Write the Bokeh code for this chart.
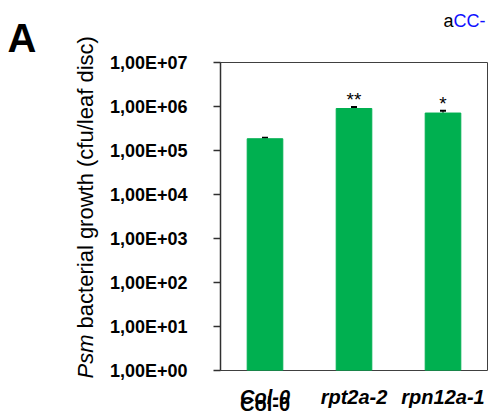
import math
from bokeh.plotting import figure
from bokeh.core.properties import value
from bokeh.models import (ColumnDataSource, Range1d, FactorRange, FixedTicker,
                          Label, LabelSet, Whisker, TeeHead)
from bokeh.embed import file_html
from bokeh.resources import INLINE

# ---- data ----
categories = ["Col-0", "rpt2a-2", "rpn12a-1"]
cfu = [1.85e5, 9.0e5, 7.1e5]
sem = [1.0e4, 8.0e4, 9.0e4]
signif = ["", "**", "*"]
italic_cats = ["rpt2a-2", "rpn12a-1"]
ytick_values = [1, 10, 100, 1000, 10000, 100000, 1000000, 10000000]
ytick_labels = ["1,00E+00", "1,00E+01", "1,00E+02", "1,00E+03",
                "1,00E+04", "1,00E+05", "1,00E+06", "1,00E+07"]
ylabel_italic = "Psm"
ylabel_rest = "bacterial growth (cfu/leaf disc)"
panel_letter = "A"

FONT = "Liberation Sans"

src = ColumnDataSource(dict(
    cat=categories,
    top=cfu,
    upper=[v + e for v, e in zip(cfu, sem)],
    sig=signif,
))

p = figure(width=490, height=412, x_range=FactorRange(*categories),
           y_range=Range1d(ytick_values[0], ytick_values[-1]),
           y_axis_type="log", output_backend="svg", toolbar_location=None,
           min_border_left=220, min_border_right=3, min_border_top=61,
           min_border_bottom=42)

p.vbar(x="cat", top="top", bottom=ytick_values[0], width=0.4, source=src,
       fill_color="#00B050", line_color="#00B050")

p.add_layout(Whisker(source=src, base="cat", lower="top", upper="upper",
                     line_color="black", line_width=1,
                     upper_head=TeeHead(size=6, line_width=2, line_color="black"),
                     lower_head=None))

p.add_layout(LabelSet(x="cat", y="upper", text="sig", source=src,
                      text_align="center", text_baseline="alphabetic",
                      y_offset=1, text_font=value(FONT), text_font_size="19px",
                      text_color="black"))

p.xgrid.visible = False
p.ygrid.visible = False

# x axis: carries the italic genotype labels; Col-0 (upright) is a Label
xa = p.xaxis[0]
xa.axis_line_color = None
xa.major_tick_line_color = None
xa.minor_tick_line_color = None
xa.major_tick_out = 0
xa.major_tick_in = 0
xa.major_label_standoff = 15
xa.major_label_text_font = FONT
xa.major_label_text_font_size = "20px"
xa.major_label_text_font_style = "bold italic"
xa.major_label_text_color = "black"
xa.major_label_overrides = {c: ("" if c not in italic_cats else c) for c in categories}

ya = p.yaxis[0]
ya.ticker = FixedTicker(ticks=ytick_values, minor_ticks=[])
ya.major_label_overrides = {float(v): lab for v, lab in zip(ytick_values, ytick_labels)}
ya.major_label_text_font = FONT
ya.major_label_text_font_size = "18px"
ya.major_label_text_font_style = "bold"
ya.major_label_text_color = "black"
ya.major_tick_out = 7
ya.major_tick_in = 0
ya.minor_tick_line_color = None
ya.major_label_standoff = 26
ya.axis_line_color = "#303030"
ya.axis_line_width = 1.5
ya.major_tick_line_color = "#303030"
ya.major_tick_line_width = 1.5

p.outline_line_color = "#404040"
p.outline_line_width = 1

# upright category label(s): x at the factor's centre on the categorical scale
for i, cat in enumerate(categories):
    if cat not in italic_cats:
        p.add_layout(Label(x=i + 0.5, y=403, x_units="data", y_units="canvas",
                           text=cat, text_align="center", text_baseline="alphabetic",
                           text_font=FONT, text_font_size="20px",
                           text_font_style="bold", text_color="black"), "above")

# y axis title with italic part (canvas units: origin top-left)
ys = 22
p.add_layout(Label(x=85, y=378, x_units="canvas", y_units="canvas",
                   text=ylabel_italic, angle=math.pi / 2, text_align="left",
                   text_baseline="alphabetic", text_font=FONT,
                   text_font_size=f"{ys}px", text_font_style="italic",
                   text_color="black"), "left")
p.add_layout(Label(x=85, y=378 - 2.0 * ys - 0.278 * ys, x_units="canvas", y_units="canvas",
                   text=ylabel_rest, angle=math.pi / 2, text_align="left",
                   text_baseline="alphabetic", text_font=FONT,
                   text_font_size=f"{ys}px", text_color="black"), "left")

# panel letter and cut-off caption fragment
p.add_layout(Label(x=7, y=37, x_units="canvas", y_units="canvas",
                   text=panel_letter, text_font=FONT, text_font_size="40px",
                   text_font_style="bold", text_baseline="alphabetic",
                   text_color="black"), "left")
p.add_layout(Label(x=443, y=20, x_units="canvas", y_units="canvas",
                   text="a", text_font=FONT, text_font_size="18px",
                   text_baseline="alphabetic", text_color="black"), "above")
p.add_layout(Label(x=453, y=20, x_units="canvas", y_units="canvas",
                   text="CC-", text_font=FONT, text_font_size="18px",
                   text_baseline="alphabetic", text_color="#1010ff"), "above")

open("out.html", "w").write(file_html(p, INLINE))
